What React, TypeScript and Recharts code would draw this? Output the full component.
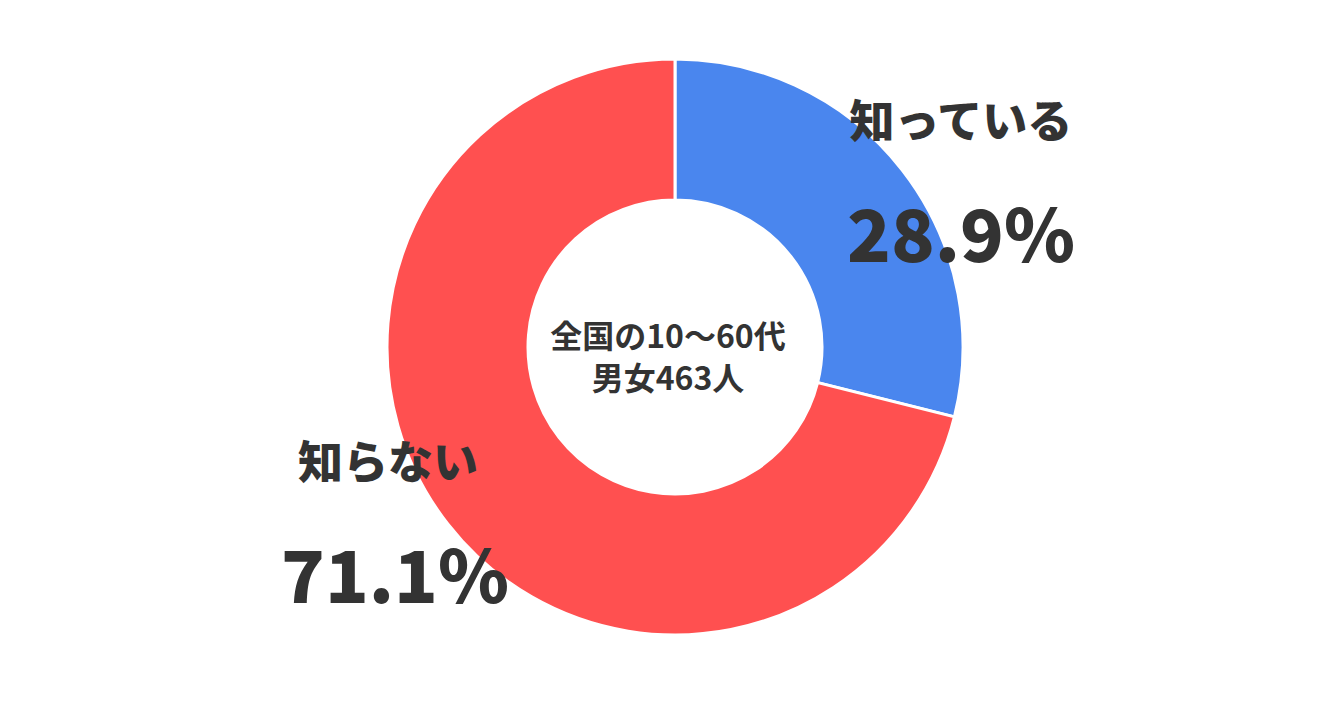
import { PieChart, Pie, Cell } from "recharts";

const names = ["知っている", "知らない"];
const values = [28.9, 71.1];
const colors = ["#4a86ee", "#ff5050"];
const centerLines = ["全国の10〜60代", "男女463人"];

const data = names.map((name, i) => ({ name, value: values[i] }));

const FONT = '"Noto Sans CJK JP", "Noto Sans", sans-serif';
const INK = "#333333";

export default function App() {
  return (
    <div style={{ position: "relative", width: 1335, height: 704, margin: -8, background: "#fff", fontFamily: FONT }}>
      <PieChart width={1335} height={704} margin={{ top: 0, right: 0, bottom: 0, left: 0 }}>
        <Pie
          data={data}
          dataKey="value"
          cx={675}
          cy={347}
          innerRadius={147}
          outerRadius={288}
          startAngle={90}
          endAngle={-270}
          stroke="#ffffff"
          strokeWidth={3}
          isAnimationActive={false}
        >
          {data.map((d, i) => (
            <Cell key={d.name} fill={colors[i]} />
          ))}
        </Pie>
      </PieChart>
      <svg width={1335} height={704} style={{ position: "absolute", left: 0, top: 0, pointerEvents: "none" }}>
        <text textAnchor="middle" fontFamily={FONT} fontWeight={700} fontSize={32} fill={INK}>
          <tspan x={668} y={348}>{centerLines[0]}</tspan>
          <tspan x={668} y={390}>{centerLines[1]}</tspan>
        </text>
        <text x={961} y={138} textAnchor="middle" fontFamily={FONT} fontWeight={900} fontSize={45} fill={INK}>
          {names[0]}
        </text>
        <text x={961} y={262} textAnchor="middle" fontFamily={FONT} fontWeight={900} fontSize={72} fill={INK}>
          {values[0].toFixed(1)}%
        </text>
        <text x={388} y={479} textAnchor="middle" fontFamily={FONT} fontWeight={900} fontSize={45} fill={INK}>
          {names[1]}
        </text>
        <text x={395} y={603} textAnchor="middle" fontFamily={FONT} fontWeight={900} fontSize={72} fill={INK}>
          {values[1].toFixed(1)}%
        </text>
      </svg>
    </div>
  );
}
